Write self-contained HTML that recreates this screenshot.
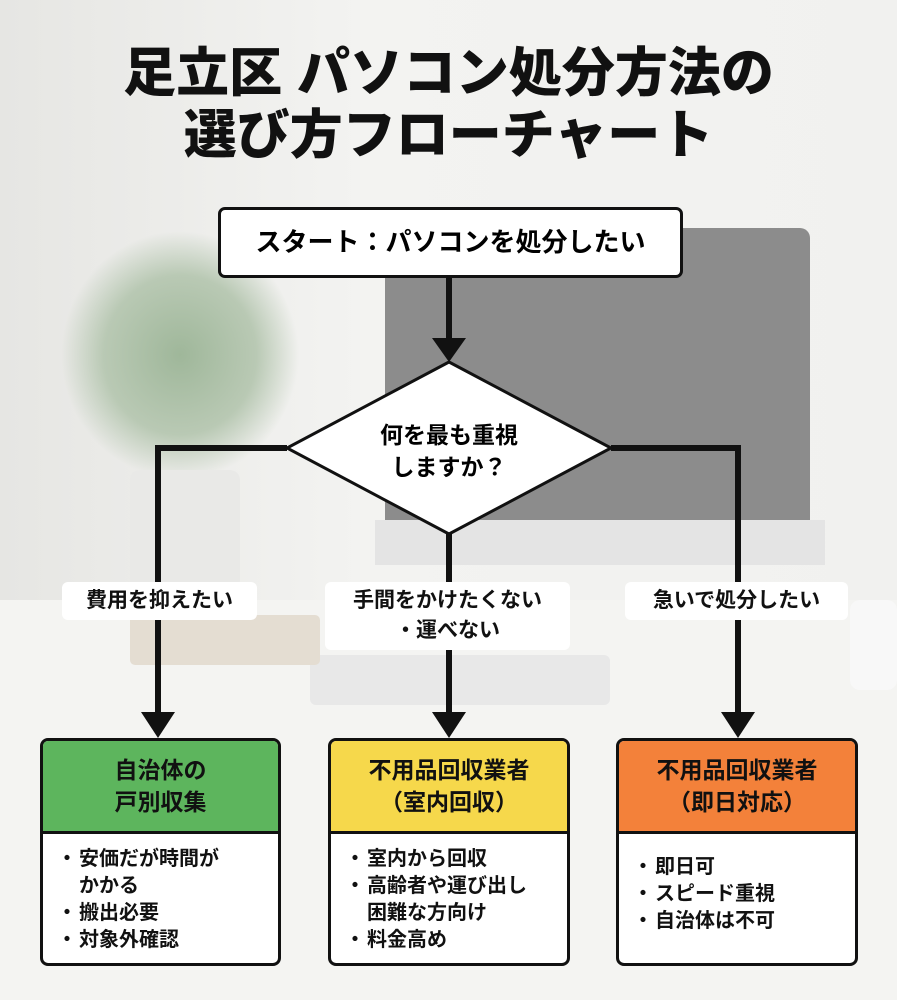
<!DOCTYPE html>
<html><head><meta charset="utf-8"><style>
body{margin:0;width:897px;height:1000px;overflow:hidden;background:#eeeeec;font-family:"Liberation Sans","Noto Sans CJK JP",sans-serif;}
.a{position:absolute}
.t{position:absolute;left:0;width:897px;text-align:center;font-weight:900;font-size:53px;color:#111;line-height:62px}
.box{position:absolute;background:#fff;border:3px solid #111;border-radius:7px;box-sizing:border-box}
.lbl{position:absolute;background:#fff;border-radius:6px;text-align:center;font-weight:700;font-size:21px;color:#111;line-height:30px}
.card{position:absolute;background:#fff;border:3px solid #111;border-radius:8px;box-sizing:border-box;overflow:hidden}
.hd{height:90px;border-bottom:3px solid #111;display:flex;align-items:center;justify-content:center;text-align:center;font-weight:700;font-size:23px;line-height:32px;color:#111}
.card ul{margin:0;padding:12px 0 0 14px;list-style:none;font-weight:700;font-size:20px;line-height:27px;color:#111;white-space:nowrap}
.card li{padding-left:22px;text-indent:-22px}
.card li:before{content:"・";display:inline-block;width:22px;text-indent:0}
</style></head><body>
<div class="a" style="left:0;top:0;width:897px;height:1000px;background:linear-gradient(90deg,#e6e6e3 0%,#f3f3f1 40%,#f1f1ef 100%)"></div>
<div class="a" style="left:385px;top:228px;width:425px;height:330px;background:#8c8c8c;border-radius:10px"></div>
<div class="a" style="left:375px;top:520px;width:450px;height:45px;background:#e4e4e4"></div>
<div class="a" style="left:0;top:600px;width:897px;height:400px;background:#f4f4f2"></div>
<div class="a" style="left:60px;top:230px;width:240px;height:250px;background:radial-gradient(ellipse at center,#9fb79a 0%,#b9c9b4 45%,rgba(230,230,227,0) 70%)"></div>
<div class="a" style="left:130px;top:470px;width:110px;height:120px;background:#e9e9e7;border-radius:10px"></div>
<div class="a" style="left:850px;top:600px;width:47px;height:90px;background:#f8f8f8;border-radius:10px"></div>
<div class="a" style="left:310px;top:655px;width:300px;height:50px;background:#e8e8e8;border-radius:6px"></div>
<div class="a" style="left:130px;top:615px;width:190px;height:50px;background:#e4ddd2;border-radius:5px"></div>

<div class="t" style="top:43px">足立区 パソコン処分方法の</div>
<div class="t" style="top:105px">選び方フローチャート</div>

<svg class="a" style="left:0;top:0" width="897" height="1000">
<g stroke="#111" stroke-width="6" fill="none">
<line x1="449" y1="277" x2="449" y2="340"/>
<polyline points="287,448 158,448 158,715"/>
<polyline points="611,448 738,448 738,715"/>
<line x1="449" y1="534" x2="449" y2="715"/>
</g>
<g fill="#111">
<polygon points="432,338 466,338 449,362"/>
<polygon points="141,712 175,712 158,738"/>
<polygon points="432,712 466,712 449,738"/>
<polygon points="721,712 755,712 738,738"/>
</g>
<polygon points="449,362 611,448 449,534 287,448" fill="#fff" stroke="#111" stroke-width="3"/>
<text x="449" y="443" text-anchor="middle" font-size="23" font-weight="700" font-family="Liberation Sans, Noto Sans CJK JP, sans-serif">何を最も重視</text>
<text x="449" y="475" text-anchor="middle" font-size="23" font-weight="700" font-family="Liberation Sans, Noto Sans CJK JP, sans-serif">しますか？</text>
</svg>

<div class="box" style="left:218px;top:207px;width:465px;height:71px;text-align:center;line-height:65px;font-weight:700;font-size:26px">スタート：パソコンを処分したい</div>

<div class="lbl" style="left:62px;top:582px;width:195px;height:38px;line-height:38px">費用を抑えたい</div>
<div class="lbl" style="left:325px;top:582px;width:245px;height:68px;padding-top:4px;box-sizing:border-box">手間をかけたくない<br>・運べない</div>
<div class="lbl" style="left:625px;top:582px;width:223px;height:38px;line-height:38px">急いで処分したい</div>

<div class="card" style="left:40px;top:738px;width:241px;height:228px">
<div class="hd" style="background:#5db55d">自治体の<br>戸別収集</div>
<ul><li>安価だが時間が<br>かかる</li><li>搬出必要</li><li>対象外確認</li></ul></div>
<div class="card" style="left:328px;top:738px;width:242px;height:228px">
<div class="hd" style="background:#f6d84b">不用品回収業者<br>（室内回収）</div>
<ul><li>室内から回収</li><li>高齢者や運び出し<br>困難な方向け</li><li>料金高め</li></ul></div>
<div class="card" style="left:616px;top:738px;width:242px;height:228px">
<div class="hd" style="background:#f3813a">不用品回収業者<br>（即日対応）</div>
<ul style="padding-top:20px"><li>即日可</li><li>スピード重視</li><li>自治体は不可</li></ul></div>
</body></html>
